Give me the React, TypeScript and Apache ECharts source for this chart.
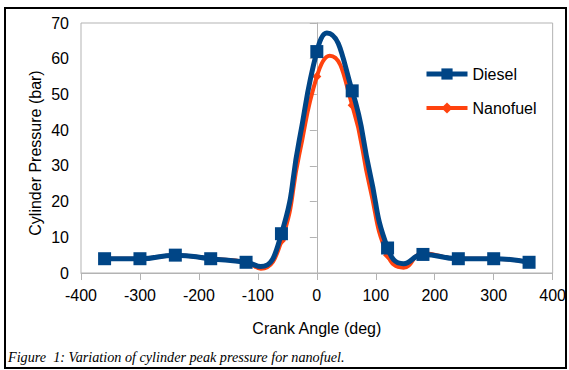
import React, { useEffect, useRef } from "react";
import * as echarts from "echarts";

// Crank angles carrying markers
const angles = [-360, -300, -240, -180, -120, -60, 0, 60, 120, 180, 240, 300, 360];
const diesel = [4, 4, 5, 4, 3, 11, 62, 51, 7, 5.2, 4, 4, 3];
const nanofuel = [4, 4, 5, 4, 3, 9, 55, 47, 5, 5.5, 4, 4, 3];

// Extra points of the drawn curves (no marker)
const dieselCurveAngles = [-95, -30, 17, 90, 147];
const dieselCurveValues = [1.8, 37, 67.2, 28, 2.6];
const nanofuelCurveAngles = [-95, -30, 22, 90, 147];
const nanofuelCurveValues = [1.2, 33, 60.8, 24, 1.5];

const xTicks = { min: -400, max: 400, step: 100 };
const yTicks = { min: 0, max: 70, step: 10 };

const seriesNames = ["Diesel", "Nanofuel"];
const xTitle = "Crank Angle (deg)";
const yTitle = "Cylinder Pressure (bar)";
const caption = "Figure  1: Variation of cylinder peak pressure for nanofuel.";

function buildData(ax: number[], vals: number[], cAx: number[], cVals: number[]) {
  const pts: any[] = [];
  ax.forEach((a, i) => pts.push({ value: [a, vals[i]] }));
  cAx.forEach((a, i) => pts.push({ value: [a, cVals[i]], symbol: "none" }));
  pts.sort((p, q) => p.value[0] - q.value[0]);
  return pts;
}

export default function App() {
  const ref = useRef<HTMLDivElement>(null);
  useEffect(() => {
    const chart = echarts.init(ref.current!, null, { renderer: "svg" });
    const font = "Liberation Sans";
    chart.setOption({
      animation: false,
      backgroundColor: "#ffffff",
      textStyle: { fontFamily: font },
      grid: {
        left: 81,
        right: 14,
        top: 23,
        bottom: 97,
        show: true,
        borderColor: "#b3b3b3",
        borderWidth: 1,
      },
      legend: {
        orient: "vertical",
        left: 419,
        top: 61,
        itemWidth: 41,
        itemHeight: 14,
        itemGap: 18,
        textStyle: { fontSize: 16, color: "#000", fontFamily: font },
        data: [
          { name: seriesNames[0], lineStyle: { width: 5 } },
          { name: seriesNames[1], lineStyle: { width: 4 } },
        ],
      },
      xAxis: {
        type: "value",
        min: xTicks.min,
        max: xTicks.max,
        interval: xTicks.step,
        axisLine: { show: true, onZero: false, lineStyle: { color: "#b3b3b3", width: 1 } },
        axisTick: { show: true, length: 7, lineStyle: { color: "#b3b3b3" } },
        splitLine: { show: false },
        axisLabel: { fontSize: 16, color: "#000", margin: 14, fontFamily: font },
        name: xTitle,
        nameLocation: "middle",
        nameGap: 47,
        nameTextStyle: { fontSize: 16, color: "#000", fontFamily: font },
      },
      yAxis: {
        type: "value",
        min: yTicks.min,
        max: yTicks.max,
        interval: yTicks.step,
        axisLine: { show: true, onZero: true, lineStyle: { color: "#b3b3b3", width: 1 } },
        axisTick: { show: true, length: 7, lineStyle: { color: "#b3b3b3" } },
        splitLine: { show: false },
        axisLabel: { fontSize: 16, color: "#000", margin: 12, fontFamily: font },
      },
      graphic: [
        {
          type: "rect",
          shape: { x: 5, y: 8, width: 561, height: 360 },
          style: { fill: "none", stroke: "#000", lineWidth: 2 },
          silent: true,
          z: 100,
        },
        {
          type: "text",
          x: 35,
          y: 153,
          rotation: Math.PI / 2,
          style: {
            text: yTitle,
            fontSize: 16,
            fontFamily: font,
            fill: "#000",
            textAlign: "center",
            textVerticalAlign: "middle",
          },
        },
        {
          type: "text",
          x: 8,
          y: 357,
          style: {
            text: caption,
            fontSize: 14.2,
            fontStyle: "italic",
            fontFamily: "Liberation Serif",
            fill: "#000",
            textAlign: "left",
            textVerticalAlign: "middle",
          },
        },
      ],
      series: [
        {
          name: seriesNames[1],
          type: "line",
          smooth: 0.5,
          z: 2,
          symbol: "diamond",
          symbolSize: 9,
          color: "#ff420e",
          lineStyle: { width: 4, color: "#ff420e" },
          itemStyle: { color: "#ff420e" },
          data: buildData(angles, nanofuel, nanofuelCurveAngles, nanofuelCurveValues),
        },
        {
          name: seriesNames[0],
          type: "line",
          smooth: 0.5,
          z: 3,
          symbol: "rect",
          symbolSize: 13,
          color: "#004586",
          lineStyle: { width: 5, color: "#004586" },
          itemStyle: { color: "#004586" },
          data: buildData(angles, diesel, dieselCurveAngles, dieselCurveValues),
        },
      ],
    });
    return () => chart.dispose();
  }, []);
  return (
    <div
      ref={ref}
      style={{ position: "fixed", left: 0, top: 0, width: 569, height: 370 }}
    />
  );
}
